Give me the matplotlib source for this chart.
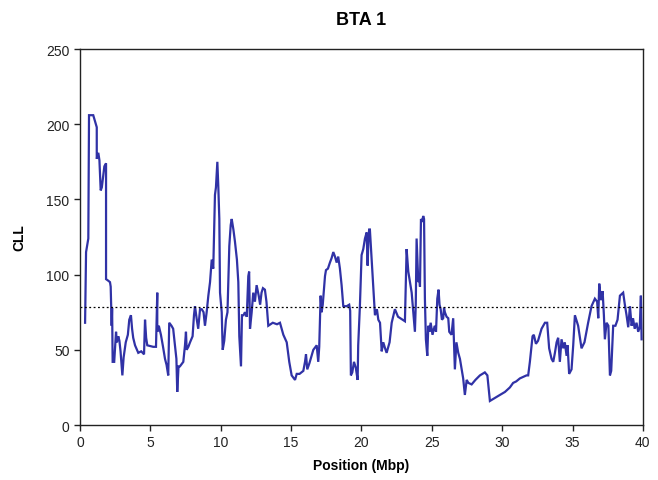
import matplotlib
matplotlib.use("Agg")
import matplotlib.pyplot as plt

plt.rcParams['font.family'] = ['Liberation Sans', 'DejaVu Sans']

# CLL profile along chromosome 1 (Mbp, CLL)
position = [0.36, 0.43, 0.59, 0.64, 0.71, 0.94, 1.19, 1.19, 1.30, 1.38, 1.47, 1.55, 1.73, 1.85, 1.85,
            2.00, 2.13, 2.18, 2.25, 2.28, 2.32, 2.43, 2.56, 2.62, 2.72, 2.80, 2.88, 3.01, 3.10, 3.25,
            3.40, 3.50, 3.62, 3.70, 3.78, 3.91, 4.14, 4.35, 4.55, 4.62, 4.70, 4.78, 5.20, 5.40, 5.49,
            5.49, 5.60, 5.75, 5.90, 6.04, 6.15, 6.27, 6.34, 6.50, 6.62, 6.85, 6.91, 7.00, 7.10, 7.34,
            7.46, 7.53, 7.58, 7.70, 7.82, 8.00, 8.10, 8.17, 8.30, 8.40, 8.53, 8.65, 8.78, 8.88, 9.00,
            9.12, 9.24, 9.36, 9.47, 9.59, 9.66, 9.76, 9.83, 9.90, 9.95, 10.07, 10.14, 10.25, 10.37, 10.48,
            10.61, 10.71, 10.78, 10.90, 11.01, 11.15, 11.25, 11.32, 11.44, 11.51, 11.62, 11.72, 11.85, 11.96, 12.02,
            12.08, 12.20, 12.31, 12.43, 12.55, 12.70, 12.80, 12.90, 13.00, 13.14, 13.25, 13.38, 13.70, 14.00,
            14.21, 14.45, 14.69, 14.87, 15.04, 15.28, 15.40, 15.60, 15.87, 15.99, 16.06, 16.15, 16.30, 16.46,
            16.58, 16.82, 16.93, 17.00, 17.10, 17.17, 17.25, 17.41, 17.48, 17.62, 17.76, 17.88, 18.00, 18.12,
            18.24, 18.35, 18.47, 18.59, 18.71, 18.95, 19.13, 19.20, 19.25, 19.35, 19.47, 19.60, 19.73, 19.77,
            19.89, 20.01, 20.13, 20.25, 20.37, 20.44, 20.50, 20.55, 20.60, 20.67, 20.80, 20.88, 20.96, 21.10,
            21.20, 21.32, 21.44, 21.55, 21.68, 21.79, 22.00, 22.15, 22.38, 22.60, 23.09, 23.21, 23.33, 23.57,
            23.80, 23.86, 23.92, 24.04, 24.11, 24.16, 24.23, 24.31, 24.39, 24.45, 24.51, 24.58, 24.68, 24.75,
            24.83, 24.92, 25.05, 25.15, 25.22, 25.30, 25.39, 25.48, 25.55, 25.63, 25.72, 25.81, 25.87, 25.93,
            26.05, 26.17, 26.24, 26.40, 26.52, 26.64, 26.75, 26.88, 27.00, 27.23, 27.35, 27.48, 27.60, 27.83,
            28.10, 28.42, 28.77, 28.95, 29.13, 29.48, 29.84, 30.20, 30.55, 30.78, 31.00, 31.26, 31.73, 31.85,
            31.97, 32.16, 32.25, 32.40, 32.55, 32.80, 33.04, 33.20, 33.34, 33.51, 33.63, 33.75, 33.87, 33.98,
            34.10, 34.22, 34.35, 34.45, 34.58, 34.65, 34.76, 34.93, 35.05, 35.17, 35.40, 35.64, 35.85, 36.11,
            36.35, 36.59, 36.75, 36.83, 36.90, 37.02, 37.14, 37.23, 37.30, 37.42, 37.55, 37.66, 37.75, 37.89,
            38.05, 38.20, 38.37, 38.60, 38.72, 38.84, 38.96, 39.08, 39.20, 39.30, 39.42, 39.55, 39.67, 39.78,
            39.86, 39.91]
cll = [68, 115, 124, 206, 206, 206, 198, 177, 181, 176, 156, 158, 172, 174, 97,
       96, 95, 92, 66, 78, 42, 42, 62, 55, 59, 56, 49, 33, 45, 55,
       60, 70, 73, 64, 58, 53, 48, 49, 47, 70, 58, 53, 52, 52, 88,
       62, 66, 60, 52, 44, 40, 33, 68, 66, 64, 44, 22, 39, 39, 42,
       53, 62, 50, 52, 55, 59, 73, 79, 70, 64, 77, 77, 75, 66, 75,
       86, 95, 110, 104, 153, 158, 175, 158, 137, 88, 75, 50, 56, 70, 75,
       119, 133, 137, 130, 122, 110, 95, 59, 39, 73, 73, 75, 72, 99, 102,
       64, 75, 88, 82, 93, 86, 80, 88, 91, 90, 82, 66, 68, 67,
       68, 60, 55, 42, 33, 30, 34, 34, 36, 42, 47, 37, 41, 46,
       50, 53, 42, 52, 86, 75, 80, 99, 103, 104, 108, 111, 115, 112,
       108, 112, 104, 93, 79, 79, 80, 76, 33, 35, 42, 38, 30, 53,
       79, 113, 117, 124, 128, 106, 125, 130, 130, 119, 99, 86, 73, 77,
       70, 68, 49, 55, 51, 48, 55, 68, 77, 72, 69, 117, 102, 88,
       62, 80, 124, 95, 99, 92, 137, 135, 139, 137, 84, 57, 46, 66,
       62, 68, 60, 64, 66, 62, 84, 90, 80, 77, 70, 71, 78, 75,
       72, 71, 62, 60, 71, 37, 55, 48, 44, 31, 20, 30, 28, 27,
       30, 33, 35, 33, 16, 18, 20, 22, 25, 28, 29, 31, 33, 33,
       42, 59, 60, 54, 56, 64, 68, 68, 51, 44, 42, 48, 55, 58,
       42, 57, 51, 55, 46, 53, 34, 37, 53, 73, 66, 51, 55, 68,
       79, 84, 82, 71, 94, 83, 89, 73, 57, 68, 66, 33, 36, 66,
       66, 70, 86, 88, 80, 73, 65, 79, 66, 71, 64, 68, 62, 65,
       86, 57]

threshold = 78.5

fig = plt.figure(figsize=(6.58, 4.81), dpi=100)
ax = fig.add_axes([0.1216, 0.1143, 0.8554, 0.7817])

ax.plot(position, cll, color='#3032a6', lw=1.6, solid_joinstyle='miter')
ax.axhline(threshold, color='black', ls=(0, (1.5, 2)), lw=0.9)

ax.set_xlim(0, 40)
ax.set_ylim(0, 250)
ax.set_xticks(range(0, 41, 5))
ax.set_yticks(range(0, 251, 50))
ax.tick_params(direction='out', length=4, width=1, labelsize=10, colors='#222222')
for s in ax.spines.values():
    s.set_linewidth(1)
    s.set_color('#222222')

ax.set_xlabel('Position (Mbp)', fontsize=10, fontweight='bold', labelpad=6)
ax.set_ylabel('CLL', fontsize=10, fontweight='bold', labelpad=14)
ax.set_title('BTA 1', fontsize=13, fontweight='bold', pad=18)

fig.savefig('out.png', dpi=100)
